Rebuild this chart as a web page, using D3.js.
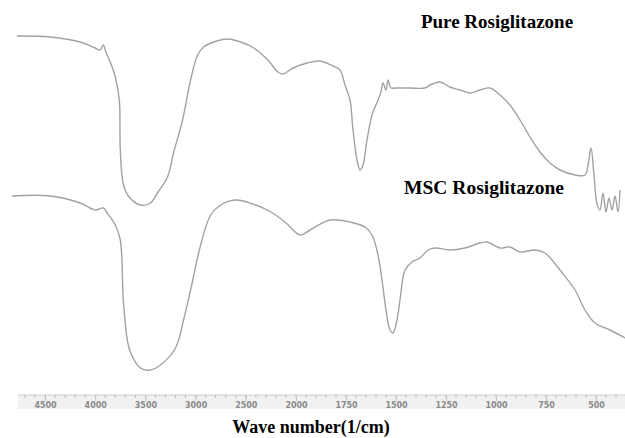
<!DOCTYPE html>
<html lang="en">
	<head>
		<meta charset="utf-8">
		<title>IR spectra</title>
		<script src="https://d3js.org/d3.v7.min.js"></script>
		<style>
			body { margin: 0; background: #fff; }
		</style>
	</head>
	<body>
		<script type="text/javascript">

			// size of svg
			var w = 625;
			var h = 438;

			// axis tick labels (wave number, 1/cm)
			var tickValues = [4500, 4000, 3500, 3000, 2500, 2000, 1750, 1500, 1250, 1000, 750, 500];

			// [wave number, transmittance (a.u.)]
			var pureWave = [4780, 4450, 4150, 4000, 3950, 3920, 3890, 3850, 3800, 3760, 3750, 3720, 3670, 3550, 3450, 3380, 3280, 3220, 3130, 3050, 2980, 2920, 2820, 2680, 2550, 2420, 2280, 2180, 2130, 2030, 1945, 1880, 1815, 1780, 1755, 1730, 1715, 1695, 1680, 1665, 1645, 1620, 1590, 1575, 1565, 1550, 1540, 1525, 1505, 1430, 1355, 1330, 1280, 1230, 1180, 1130, 1080, 1030, 980, 930, 880, 830, 780, 730, 680, 605, 555, 540, 525, 510, 495, 480, 465, 450, 435, 420, 405, 390, 380];
			var pureT = [91, 90.75, 89.5, 88, 87.5, 88.75, 86.75, 84.5, 80.75, 75, 62.5, 54, 51, 48.75, 49.25, 51.75, 55.75, 61.75, 70, 80, 86.25, 88.25, 89.5, 90.25, 89.5, 88, 85, 82, 81.5, 83, 84.25, 84.75, 83.5, 82.5, 78.75, 75, 67.5, 60, 57.5, 58.75, 65, 71.25, 75, 77, 79.25, 77.5, 80, 78, 78, 78, 78, 78.75, 79.5, 78.25, 77.5, 76.75, 77.5, 78, 76.25, 73.75, 70, 65.75, 62, 59.25, 57.5, 56.25, 56.25, 58.75, 63, 56.25, 49, 47.5, 51.75, 47, 50.5, 47.5, 51, 47, 52.5];

			var mscWave = [4830, 4450, 4150, 4000, 3920, 3880, 3800, 3750, 3720, 3680, 3650, 3550, 3450, 3350, 3200, 3120, 3050, 2950, 2850, 2750, 2600, 2400, 2250, 2110, 1980, 1930, 1830, 1730, 1655, 1620, 1590, 1570, 1550, 1530, 1515, 1495, 1480, 1455, 1420, 1380, 1340, 1305, 1230, 1155, 1080, 1045, 980, 930, 880, 805, 755, 680, 605, 555, 505, 430, 355];
			var mscT = [51, 51, 49.25, 47.5, 48, 46.75, 43.75, 40, 25, 15, 12, 8, 7.5, 8.75, 13, 20, 27.5, 38.75, 46.25, 48.75, 50, 48.75, 47, 44.5, 41.25, 42.5, 45, 44.5, 43.25, 41.25, 36.25, 30, 22.5, 17.5, 16.75, 20, 25, 32.5, 34.5, 35.5, 37.5, 38, 37.5, 38, 39.25, 39.5, 38, 38.25, 37, 37.5, 36.75, 32.5, 27.5, 22.5, 19.25, 17.5, 15.5];

			// scales: the printed axis changes density at 2000
			var xScale = d3.scaleLinear().domain([4500, 2000, 500]).range([45, 296, 596]);
			var yScale = d3.scaleLinear().domain([0, 100]).range([400, 0]);

			var svg = d3.select("body").append("svg").attr("width", w).attr("height", h);

			// lines
			var line = d3.line()
				.x(function(d) { return xScale(d[0]); })
				.y(function(d) { return yScale(d[1]); })
				.curve(d3.curveCatmullRom);

			var pure = pureWave.map(function(v, i) { return [v, pureT[i]]; });
			var msc = mscWave.map(function(v, i) { return [v, mscT[i]]; });

			svg.append("path").datum(pure).attr("d", line)
				.attr("fill", "none").attr("stroke", "#a2a2a2").attr("stroke-width", 1.4);
			svg.append("path").datum(msc).attr("d", line)
				.attr("fill", "none").attr("stroke", "#a2a2a2").attr("stroke-width", 1.4);

			// axis strip
			var stripTop = 395;
			svg.append("rect").attr("x", 18).attr("y", stripTop).attr("width", w - 18).attr("height", 14)
				.attr("fill", "#f1f1f1");
			svg.append("line").attr("x1", 18).attr("x2", w).attr("y1", stripTop).attr("y2", stripTop)
				.attr("stroke", "#cfcfcf").attr("stroke-width", 1);

			// minor ticks every 100 (left part) / 50 (right part)
			var minor = d3.range(4700, 2000, -100).concat(d3.range(2000, 300, -50));
			svg.selectAll("line.minor").data(minor).enter().append("line").attr("class", "minor")
				.attr("x1", function(d) { return xScale(d); }).attr("x2", function(d) { return xScale(d); })
				.attr("y1", stripTop).attr("y2", stripTop + 3)
				.attr("stroke", "#bbbbbb").attr("stroke-width", 1);

			var xAxis = d3.axisBottom(xScale).tickValues(tickValues).tickFormat(d3.format("d"))
				.tickSize(6).tickPadding(1);
			var gx = svg.append("g").attr("transform", "translate(0," + stripTop + ")").call(xAxis);
			gx.select(".domain").remove();
			gx.selectAll(".tick line").attr("stroke", "#c4c4c4");
			gx.selectAll(".tick text")
				.attr("fill", "#8a8a8a")
				.style("font-family", "'DejaVu Sans', sans-serif")
				.style("font-size", "8px")
				.style("font-weight", "bold");

			// labels
			svg.append("text").attr("x", 497).attr("y", 28).attr("text-anchor", "middle")
				.style("font-family", "'Liberation Serif', 'Times New Roman', serif")
				.style("font-weight", "bold").style("font-size", "19px")
				.text("Pure Rosiglitazone");
			svg.append("text").attr("x", 484).attr("y", 194).attr("text-anchor", "middle")
				.style("font-family", "'Liberation Serif', 'Times New Roman', serif")
				.style("font-weight", "bold").style("font-size", "19.5px")
				.text("MSC Rosiglitazone");
			svg.append("text").attr("x", 311).attr("y", 433).attr("text-anchor", "middle")
				.style("font-family", "'Liberation Serif', 'Times New Roman', serif")
				.style("font-weight", "bold").style("font-size", "18px")
				.text("Wave number(1/cm)");

		</script>
	</body>
</html>
